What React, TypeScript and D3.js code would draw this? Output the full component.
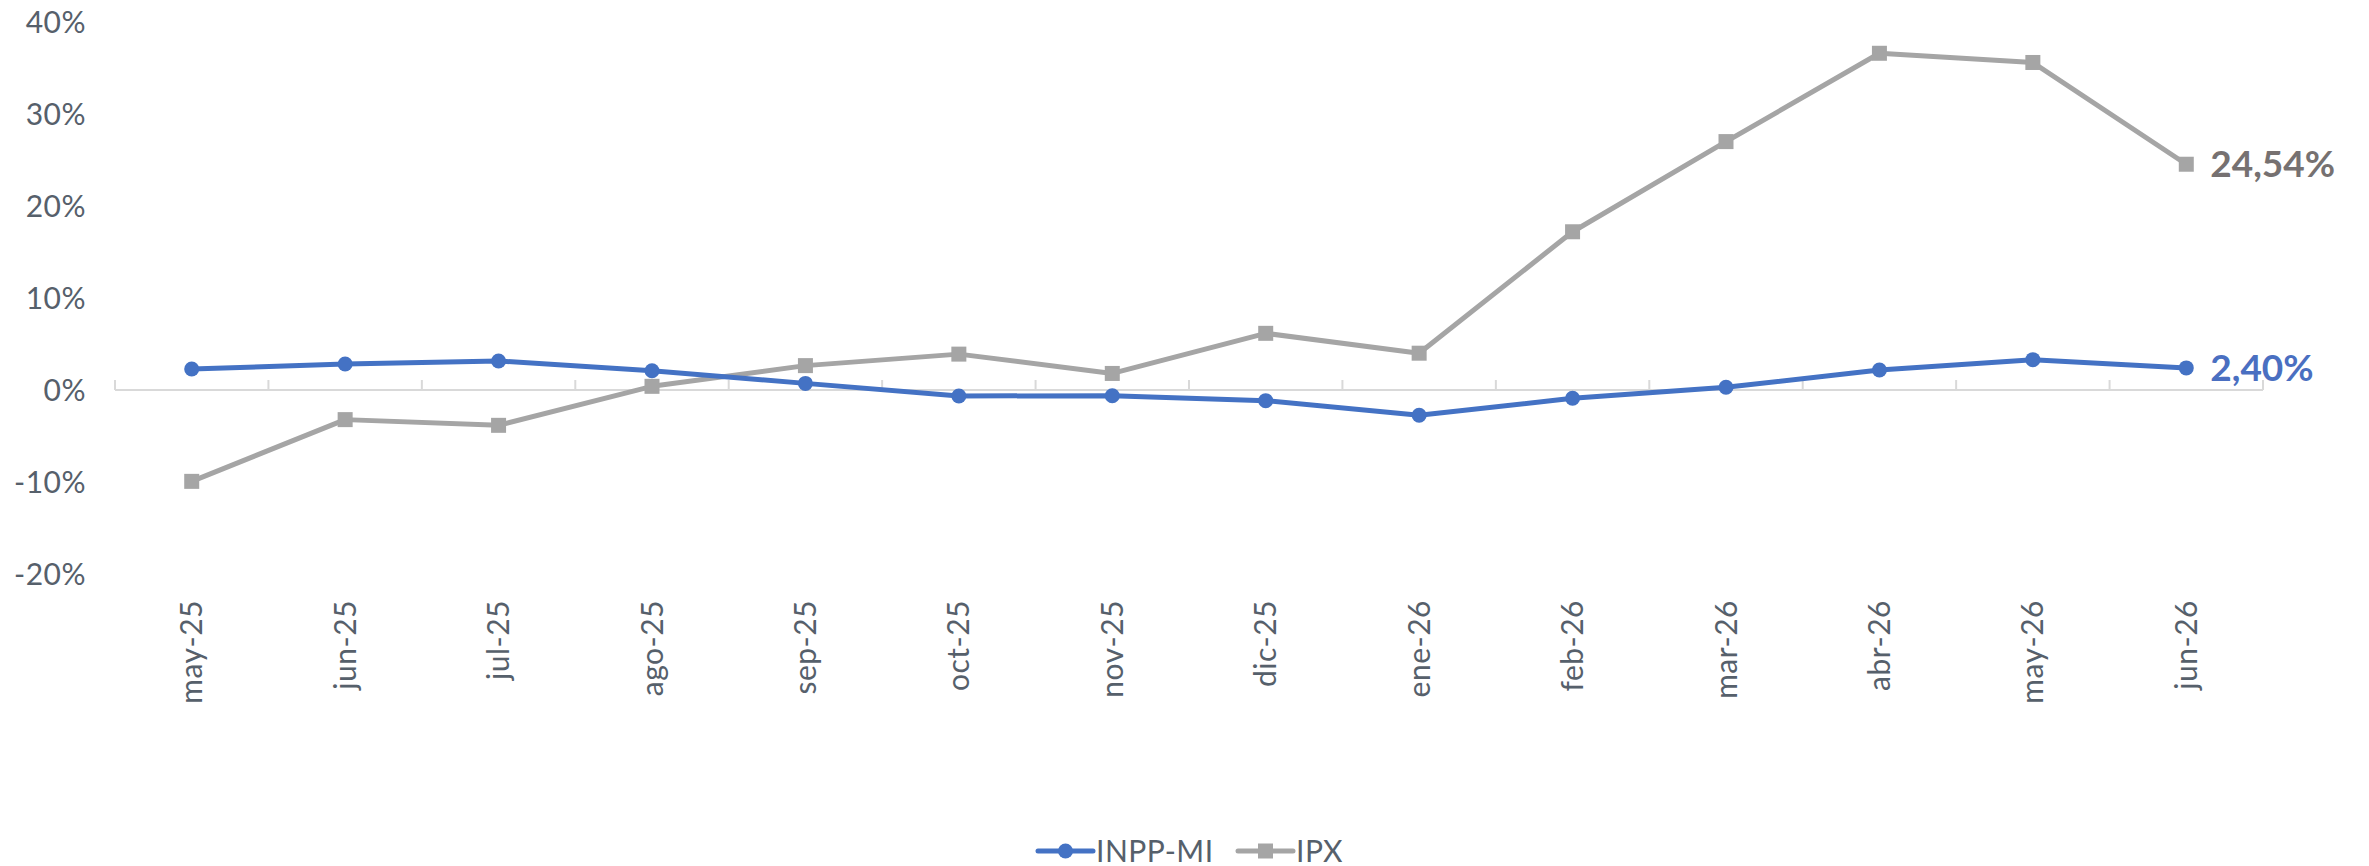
import React, { useEffect, useRef } from "react";
import * as d3 from "d3";

const categories = ["may-25","jun-25","jul-25","ago-25","sep-25","oct-25","nov-25","dic-25","ene-26","feb-26","mar-26","abr-26","may-26","jun-26"];
const inppValues = [2.28, 2.83, 3.15, 2.1, 0.72, -0.65, -0.62, -1.16, -2.75, -0.9, 0.3, 2.17, 3.3, 2.40];
const ipxValues = [-9.93, -3.22, -3.84, 0.4, 2.65, 3.9, 1.8, 6.16, 4.0, 17.2, 27.0, 36.6, 35.6, 24.54];
const yTicks = [-20, -10, 0, 10, 20, 30, 40];
const seriesNames = ["INPP-MI", "IPX"];
const endLabels = ["2,40%", "24,54%"];

const W = 2369, H = 866;
const BLUE = "#4472C4";
const GRAY = "#A5A5A5";
const TXT = "#56606b";
const FONT = "Lato, 'Open Sans', sans-serif";
const FS = 30;

export default function App() {
  const ref = useRef<SVGSVGElement>(null);
  useEffect(() => {
    const svg = d3.select(ref.current);
    svg.selectAll("*").remove();
    const x = d3.scaleBand().domain(categories).range([115, 2263]).padding(0);
    const y = d3.scaleLinear().domain([-20, 40]).range([574, 22]);
    const cx = (c: string) => (x(c) as number) + x.bandwidth() / 2;

    // y labels
    svg.append("g").selectAll("text").data(yTicks).join("text")
      .attr("x", 86).attr("y", d => y(d)).attr("dy", "0.35em")
      .attr("text-anchor", "end").attr("font-family", FONT).attr("font-size", FS)
      .attr("letter-spacing", 0.5)
      .attr("fill", TXT).text(d => `${d}%`);

    // axis line at 0
    svg.append("line").attr("x1", 115).attr("x2", 2263).attr("y1", y(0)).attr("y2", y(0))
      .attr("stroke", "#d9d9d9").attr("stroke-width", 2);
    const bounds = categories.map(c => x(c) as number).concat([2263]);
    svg.append("g").selectAll("line").data(bounds).join("line")
      .attr("x1", d => d).attr("x2", d => d).attr("y1", y(0)).attr("y2", y(0) - 10)
      .attr("stroke", "#d9d9d9").attr("stroke-width", 2);

    // x labels
    svg.append("g").selectAll("text").data(categories).join("text")
      .attr("transform", d => `translate(${cx(d)},600) rotate(-90)`)
      .attr("dy", "0.35em").attr("text-anchor", "end")
      .attr("letter-spacing", 0.5)
      .attr("font-family", FONT).attr("font-size", FS).attr("fill", TXT).text(d => d);

    const line = d3.line<number>().x((_, i) => cx(categories[i])).y(d => y(d));

    // IPX
    svg.append("path").attr("d", line(ipxValues)).attr("fill", "none")
      .attr("stroke", GRAY).attr("stroke-width", 5).attr("stroke-linejoin", "round");
    svg.append("g").selectAll("rect").data(ipxValues).join("rect")
      .attr("x", (_, i) => cx(categories[i]) - 7.5).attr("y", d => y(d) - 7.5)
      .attr("width", 15).attr("height", 15).attr("fill", GRAY);

    // INPP
    svg.append("path").attr("d", line(inppValues)).attr("fill", "none")
      .attr("stroke", BLUE).attr("stroke-width", 5).attr("stroke-linejoin", "round");
    svg.append("g").selectAll("circle").data(inppValues).join("circle")
      .attr("cx", (_, i) => cx(categories[i])).attr("cy", d => y(d)).attr("r", 7.5).attr("fill", BLUE);

    // end labels
    const last = categories.length - 1;
    svg.append("text").attr("x", cx(categories[last]) + 24).attr("y", y(inppValues[last]))
      .attr("dy", "0.35em").attr("font-family", FONT).attr("font-weight", "bold")
      .attr("font-size", 37).attr("fill", "#4a6fc1").text(endLabels[0]);
    svg.append("text").attr("x", cx(categories[last]) + 24).attr("y", y(ipxValues[last]))
      .attr("dy", "0.35em").attr("font-family", FONT).attr("font-weight", "bold")
      .attr("font-size", 37).attr("fill", "#767171").text(endLabels[1]);

    // legend
    const lg = svg.append("g");
    const ly = 851;
    const items = [
      { name: seriesNames[0], color: BLUE, x0: 1038, shape: "circle" },
      { name: seriesNames[1], color: GRAY, x0: 1238, shape: "rect" },
    ];
    items.forEach(it => {
      lg.append("line").attr("x1", it.x0).attr("x2", it.x0 + 55).attr("y1", ly).attr("y2", ly)
        .attr("stroke", it.color).attr("stroke-width", 5).attr("stroke-linecap", "round");
      if (it.shape === "circle") {
        lg.append("circle").attr("cx", it.x0 + 27.5).attr("cy", ly).attr("r", 7.5).attr("fill", it.color);
      } else {
        lg.append("rect").attr("x", it.x0 + 20).attr("y", ly - 7.5).attr("width", 15).attr("height", 15).attr("fill", it.color);
      }
      lg.append("text").attr("x", it.x0 + 58).attr("y", ly).attr("dy", "0.35em")
        .attr("letter-spacing", 0.5)
        .attr("font-family", FONT).attr("font-size", FS).attr("fill", TXT).text(it.name);
    });
  }, []);
  return (
    <svg ref={ref} width={W} height={H} style={{ position: "absolute", left: 0, top: 0, background: "#fff" }} />
  );
}
